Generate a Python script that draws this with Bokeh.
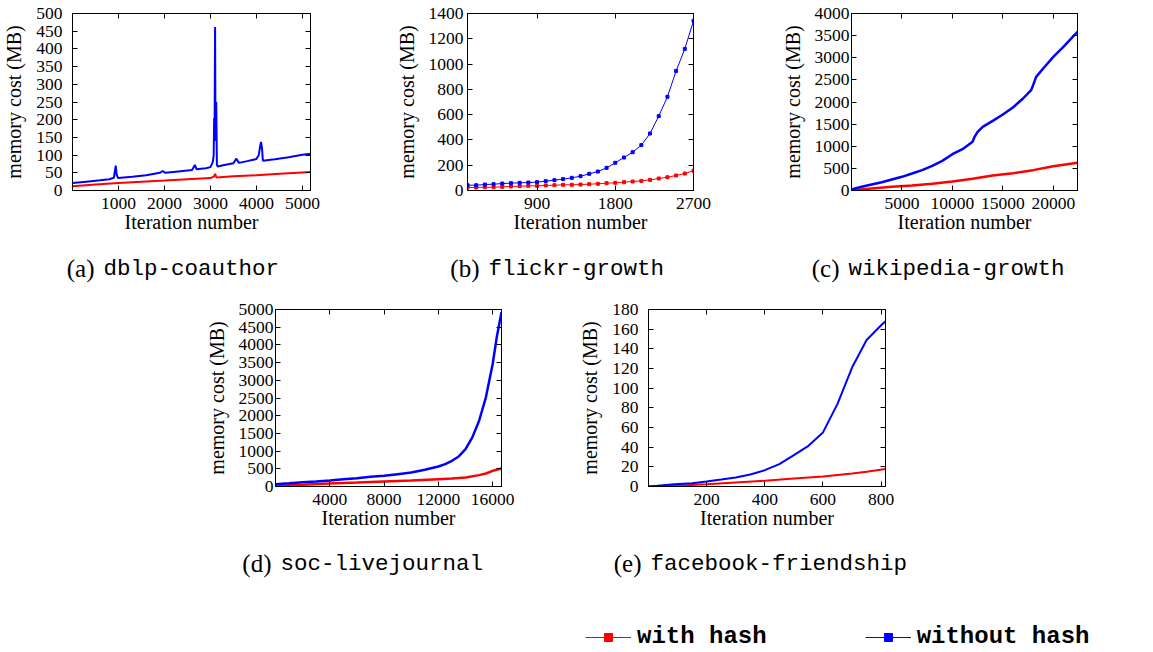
from bokeh.plotting import figure
from bokeh.models import Range1d, LinearAxis, FixedTicker, Label, Legend, LegendItem, Spacer
from bokeh.layouts import row, column
from bokeh.embed import file_html
from bokeh.resources import INLINE

# ---------------- data ----------------
# (a) dblp-coauthor
a_blue_x = [0, 300, 600, 800, 900, 940, 960, 990, 1300, 1600, 1900, 1960, 2020, 2300, 2600, 2660, 2700,
            2900, 3000, 3050, 3070, 3080, 3090, 3100, 3110, 3125, 3140, 3160, 3300, 3500, 3560, 3620,
            3800, 4000, 4050, 4080, 4100, 4120, 4140, 4400, 4700, 5000, 5175]
a_blue_y = [21, 25, 29, 32, 36, 70, 45, 35, 39, 43, 50, 55, 50, 54, 58, 72, 60,
            63, 66, 80, 100, 205, 180, 462, 140, 250, 72, 68, 72, 77, 90, 78,
            83, 89, 100, 125, 137, 120, 84, 88, 94, 101, 104]
a_red_x = [0, 500, 1000, 1500, 2000, 2500, 3000, 3080, 3100, 3130, 3500, 4000, 4500, 5000, 5175]
a_red_y = [12, 17, 21, 25, 28, 32, 35, 40, 47, 37, 40, 43, 47, 51, 52]

# (b) flickr-growth
b_x = [100, 200, 300, 400, 500, 600, 700, 800, 900, 1000, 1100, 1200, 1300, 1400,
       1500, 1600, 1700, 1800, 1900, 2000, 2100, 2200, 2300, 2400, 2500, 2600, 2700]
b_blue_y = [42, 42, 47, 50, 55, 58, 61, 63, 66, 74, 82, 90, 100, 113,
            132, 150, 179, 219, 261, 303, 359, 451, 588, 741, 946, 1120, 1342]
b_red_y = [24, 24, 26, 26, 29, 32, 34, 37, 37, 40, 42, 45, 45, 47,
           50, 53, 58, 61, 66, 71, 76, 84, 95, 105, 119, 134, 156]

# (c) wikipedia-growth
c_blue_x = [0, 1000, 2000, 3000, 4000, 5000, 6000, 7000, 8000, 9000, 10000, 11000, 12000,
            12200, 12500, 13000, 14000, 15000, 16000, 17000, 17800, 18000, 18300, 19000,
            20000, 21000, 22400]
c_blue_y = [23, 83, 136, 188, 249, 309, 384, 460, 557, 670, 821, 934, 1100,
            1213, 1326, 1439, 1574, 1718, 1876, 2079, 2267, 2380, 2569, 2757,
            3020, 3246, 3586]
c_red_x = [0, 2000, 4000, 6000, 8000, 10000, 12000, 14000, 16000, 18000, 20000, 22400]
c_red_y = [8, 45, 83, 113, 151, 203, 264, 339, 392, 460, 550, 625]

# (d) soc-livejournal
d_blue_x = [0, 1000, 2000, 3000, 4000, 5000, 6000, 7000, 8000, 9000, 10000, 11000, 12000,
            12500, 13000, 13500, 14000, 14500, 15000, 15500, 16000, 16300, 16650]
d_blue_y = [66, 94, 123, 142, 170, 208, 236, 274, 302, 349, 396, 472, 566,
            632, 726, 849, 1057, 1387, 1858, 2519, 3462, 4217, 4925]
d_red_x = [0, 2000, 4000, 6000, 8000, 10000, 12000, 13000, 14000, 15000, 15500, 16000, 16650]
d_red_y = [19, 47, 85, 113, 142, 170, 208, 226, 255, 321, 368, 443, 509]

# (e) facebook-friendship
e_blue_x = [0, 30, 90, 150, 200, 250, 300, 350, 400, 450, 500, 550, 600, 650, 700, 750, 800, 815]
e_blue_y = [0, 0.7, 2.4, 3.4, 5.1, 7.1, 9.2, 12.2, 16.6, 22.8, 31.9, 41.4, 55, 84, 121, 149, 164, 168]
e_red_x = [0, 90, 200, 300, 400, 500, 600, 700, 750, 815]
e_red_y = [0, 0.7, 2.4, 4.1, 5.8, 8.2, 10.2, 13.2, 14.9, 17.7]

# axis limits and ticks
a_xlim, a_ylim = [0, 5175], [0, 500]
b_xlim, b_ylim = [100, 2700], [0, 1400]
c_xlim, c_ylim = [0, 22400], [0, 4000]
d_xlim, d_ylim = [0, 16650], [0, 5000]
e_xlim, e_ylim = [0, 815], [0, 180]
a_xticks, a_yticks = [1000, 2000, 3000, 4000, 5000], list(range(0, 501, 50))
b_xticks, b_yticks = [900, 1800, 2700], list(range(0, 1401, 200))
c_xticks, c_yticks = [5000, 10000, 15000, 20000], list(range(0, 4001, 500))
d_xticks, d_yticks = [4000, 8000, 12000, 16000], list(range(0, 5001, 500))
e_xticks, e_yticks = [200, 400, 600, 800], list(range(0, 181, 20))

captions = [("(a)", "dblp-coauthor"), ("(b)", "flickr-growth"), ("(c)", "wikipedia-growth"),
            ("(d)", "soc-livejournal"), ("(e)", "facebook-friendship")]
series_names = ["with hash", "without hash"]

# ---------------- style ----------------
RED = "#ff0000"
BLUE = "#0000ff"
SERIF = "Liberation Serif"
MONO = "Liberation Mono"
FS = "17.5px"
FS_LABEL = "20px"


def style_axis(ax, ticks, standoff, label_standoff):
    ax.ticker = FixedTicker(ticks=ticks)
    ax.major_tick_in = 5
    ax.major_tick_out = 0
    ax.minor_tick_line_color = None
    ax.axis_line_color = "black"
    ax.major_tick_line_color = "black"
    ax.major_label_text_font = SERIF
    ax.major_label_text_font_size = FS
    ax.major_label_text_color = "black"
    ax.major_label_standoff = standoff
    ax.axis_label_text_font = SERIF
    ax.axis_label_text_font_size = FS_LABEL
    ax.axis_label_text_font_style = "normal"
    ax.axis_label_text_color = "black"
    ax.axis_label_standoff = label_standoff


def mirror_axis(ticks):
    return LinearAxis(ticker=FixedTicker(ticks=ticks), major_tick_in=5, major_tick_out=0,
                      minor_tick_line_color=None, axis_line_color="black",
                      major_label_text_font_size="1px", major_label_text_color=None,
                      major_label_standoff=0)


def panel(width, height, bl, br, bt, bb, xlim, ylim, xticks, yticks,
          red_x, red_y, blue_x, blue_y, lw, msize, ystand):
    p = figure(width=width, height=height, x_range=Range1d(*xlim), y_range=Range1d(*ylim),
               output_backend="svg", toolbar_location=None,
               min_border_left=bl, min_border_right=br, min_border_top=bt, min_border_bottom=bb,
               x_axis_label="Iteration number", y_axis_label="memory cost (MB)")
    p.grid.visible = False
    p.outline_line_color = "black"
    p.outline_line_alpha = 1
    style_axis(p.xaxis[0], xticks, 7, -1)
    style_axis(p.yaxis[0], yticks, ystand, 8)
    p.add_layout(mirror_axis(xticks), "above")
    p.add_layout(mirror_axis(yticks), "right")
    p.line(red_x, red_y, line_color=RED, line_width=lw)
    if msize:
        p.scatter(red_x, red_y, marker="square", size=msize, color=RED)
    p.line(blue_x, blue_y, line_color=BLUE, line_width=lw)
    if msize:
        p.scatter(blue_x, blue_y, marker="square", size=msize, color=BLUE)
    return p


def caption(p, cap, x, y):
    tag, name = cap
    p.add_layout(Label(x=x - 9, y=y, x_units="screen", y_units="screen", text=tag,
                       text_font=SERIF, text_font_size="25px", text_align="right",
                       text_baseline="middle", text_color="black"))
    p.add_layout(Label(x=x, y=y, x_units="screen", y_units="screen", text=name,
                       text_font=MONO, text_font_size="22.5px", text_align="left",
                       text_baseline="middle", text_color="black"))


def strip(height):
    s = figure(width=1153, height=height, x_range=Range1d(-2, -1), y_range=Range1d(-2, -1),
               output_backend="svg", toolbar_location=None, min_border=0,
               x_axis_location=None, y_axis_location=None)
    s.grid.visible = False
    s.outline_line_color = None
    return s


pa = panel(385, 245, 72, 75, 13, 55, a_xlim, a_ylim, a_xticks, a_yticks,
           a_red_x, a_red_y, a_blue_x, a_blue_y, 2, 0, 10)
pb = panel(385, 245, 82, 77, 13, 55, b_xlim, b_ylim, b_xticks, b_yticks,
           b_x, b_red_y, b_x, b_blue_y, 1, 3, 4)
pc = panel(383, 245, 81, 76, 13, 55, c_xlim, c_ylim, c_xticks, c_yticks,
           c_red_x, c_red_y, c_blue_x, c_blue_y, 2.5, 0, 2)
pd = panel(380, 250, 95, 59, 19, 54, d_xlim, d_ylim, d_xticks, d_yticks,
           d_red_x, d_red_y, d_blue_x, d_blue_y, 2.5, 0, 2)
pe = panel(380, 250, 88, 55, 19, 54, e_xlim, e_ylim, e_xticks, e_yticks,
           e_red_x, e_red_y, e_blue_x, e_blue_y, 2, 0, 10)

# caption strip under row 1 (y 245..290)
cap1 = strip(45)
caption(cap1, captions[0], 103, 22)
caption(cap1, captions[1], 488, 22)
caption(cap1, captions[2], 848, 22)

# caption + legend strip under row 2 (y 540..652)
cap2 = strip(112)
caption(cap2, captions[3], 280, 89)
caption(cap2, captions[4], 650, 89)

# legend renderers use real series data but lie outside this strip's ranges
r1 = cap2.line(e_red_x, e_red_y, line_color=RED, line_width=1)
s1 = cap2.scatter(e_red_x, e_red_y, marker="square", size=3, color=RED)
r2 = cap2.line(e_blue_x, e_blue_y, line_color=BLUE, line_width=1)
s2 = cap2.scatter(e_blue_x, e_blue_y, marker="square", size=3, color=BLUE)
leg = Legend(items=[LegendItem(label=series_names[0], renderers=[r1, s1]),
                    LegendItem(label=series_names[1], renderers=[r2, s2])],
             orientation="horizontal", location=(585, 2), padding=0, margin=0,
             glyph_width=46, glyph_height=20, label_standoff=6, spacing=98,
             label_text_font=MONO, label_text_font_style="bold", label_text_font_size="24px",
             label_text_color="black", border_line_color=None, background_fill_alpha=0)
cap2.add_layout(leg)

layout = column(row(pa, pb, pc), cap1, row(Spacer(width=180, height=250), pd, pe), cap2)
open("out.html", "w").write(file_html(layout, INLINE))
